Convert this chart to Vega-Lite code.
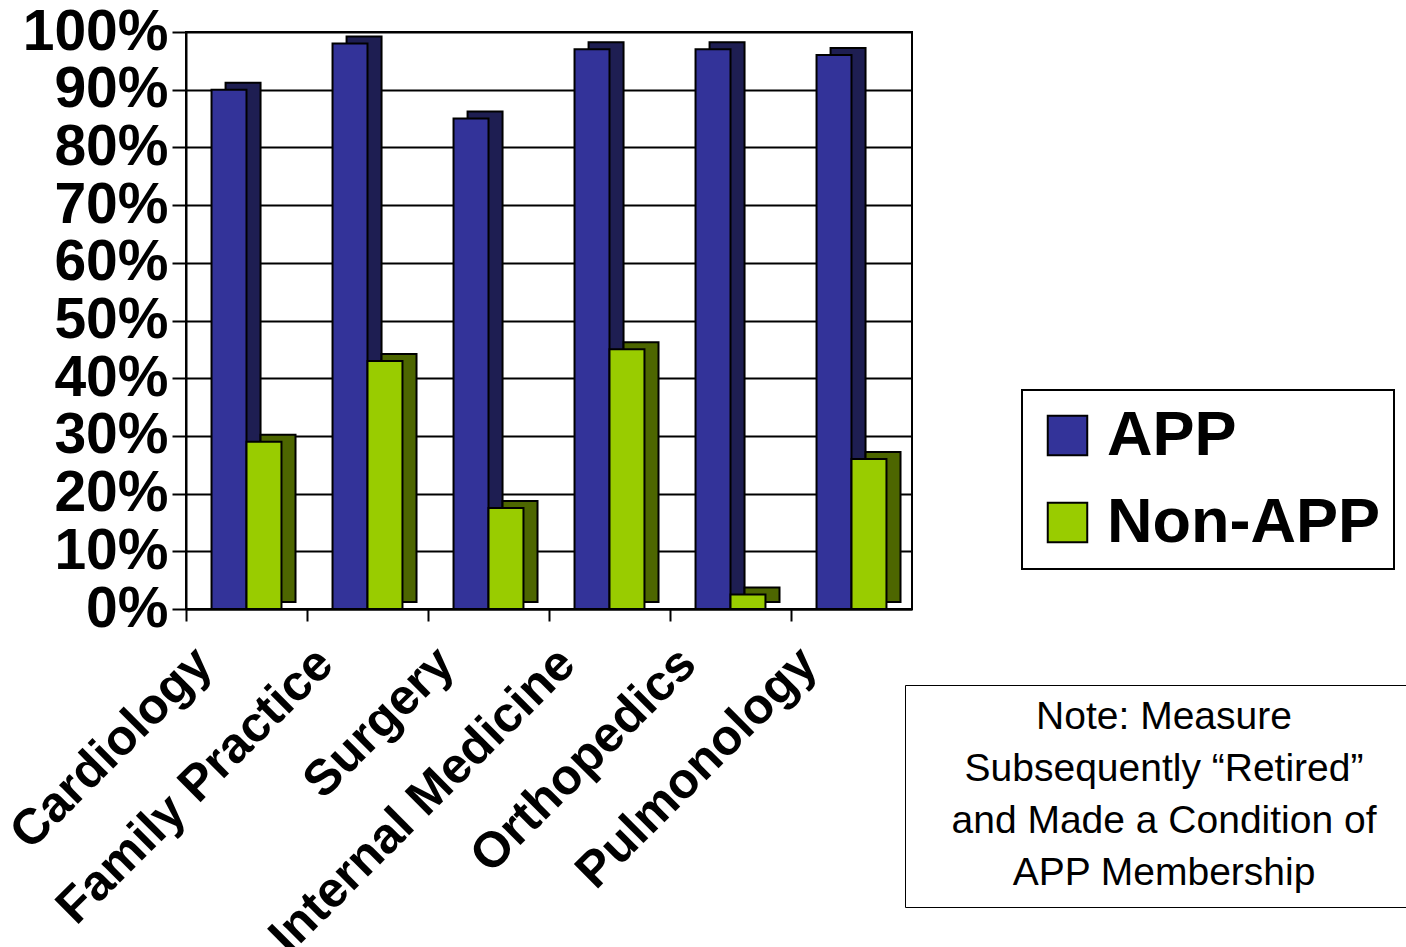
{
  "$schema": "https://vega.github.io/schema/vega-lite/v6.json",
  "autosize": "none",
  "width": 726,
  "height": 577,
  "padding": {"left": 186, "top": 32, "right": 494, "bottom": 338},
  "background": "white",
  "config": {
    "view": {"stroke": "black", "strokeWidth": 2, "fill": "white"},
    "font": "Liberation Sans"
  },
  "resolve": {"scale": {"xOffset": "independent"}},
  "data": {
    "values": [
      {"category": "Cardiology", "series": "APP", "value": 0.90},
      {"category": "Cardiology", "series": "Non-APP", "value": 0.29},
      {"category": "Family Practice", "series": "APP", "value": 0.98},
      {"category": "Family Practice", "series": "Non-APP", "value": 0.43},
      {"category": "Surgery", "series": "APP", "value": 0.85},
      {"category": "Surgery", "series": "Non-APP", "value": 0.175},
      {"category": "Internal Medicine", "series": "APP", "value": 0.97},
      {"category": "Internal Medicine", "series": "Non-APP", "value": 0.45},
      {"category": "Orthopedics", "series": "APP", "value": 0.97},
      {"category": "Orthopedics", "series": "Non-APP", "value": 0.025},
      {"category": "Pulmonology", "series": "APP", "value": 0.96},
      {"category": "Pulmonology", "series": "Non-APP", "value": 0.26}
    ]
  },
  "encoding": {
    "x": {
      "field": "category",
      "type": "nominal",
      "sort": null,
      "scale": {"paddingInner": 0, "paddingOuter": 0},
      "axis": {
        "title": null,
        "bandPosition": 0,
        "domainColor": "black",
        "domainWidth": 2,
        "tickColor": "black",
        "tickWidth": 2,
        "tickSize": 12,
        "labelAngle": -45,
        "labelAlign": "right",
        "labelBaseline": "top",
        "labelOffset": -60,
        "labelPadding": 17,
        "labelOverlap": false,
        "labelFont": "Liberation Sans",
        "labelFontSize": 50,
        "labelFontWeight": "bold",
        "labelColor": "black",
        "labelLimit": 1000
      }
    },
    "y": {
      "field": "value",
      "type": "quantitative",
      "scale": {"domain": [0, 1], "nice": false},
      "axis": {
        "title": null,
        "format": ".0%",
        "values": [0, 0.1, 0.2, 0.3, 0.4, 0.5, 0.6, 0.7, 0.8, 0.9, 1.0],
        "labelOverlap": false,
        "grid": true,
        "gridColor": "black",
        "gridWidth": 2,
        "gridOpacity": 1,
        "domainColor": "black",
        "domainWidth": 2,
        "tickColor": "black",
        "tickWidth": 2,
        "tickSize": 14,
        "labelPadding": 4,
        "labelFont": "Liberation Sans",
        "labelFontSize": 57,
        "labelFontWeight": "bold",
        "labelColor": "black",
        "labelBaseline": "middle"
      }
    }
  },
  "layer": [
    {
      "mark": {"type": "bar", "stroke": "black", "strokeWidth": 2, "yOffset": -7},
      "encoding": {
        "xOffset": {
          "field": "series",
          "type": "nominal",
          "scale": {"paddingInner": 0, "paddingOuter": 0.73, "align": 0.775}
        },
        "fill": {
          "condition": {"test": "datum.series === 'APP'", "value": "#1e1e52"},
          "value": "#4d6600"
        }
      }
    },
    {
      "mark": {"type": "bar", "stroke": "black", "strokeWidth": 2},
      "encoding": {
        "xOffset": {
          "field": "series",
          "type": "nominal",
          "scale": {"paddingInner": 0, "paddingOuter": 0.73}
        },
        "color": {
          "field": "series",
          "type": "nominal",
          "scale": {"domain": ["APP", "Non-APP"], "range": ["#333399", "#99cc00"]},
          "legend": {
            "orient": "none",
            "legendX": 836,
            "legendY": 358,
            "title": null,
            "strokeColor": "black",
            "fillColor": "white",
            "padding": 14,
            "symbolType": "square",
            "symbolSize": 1560,
            "symbolStrokeColor": "black",
            "symbolStrokeWidth": 2,
            "symbolOpacity": 1,
            "labelFont": "Liberation Sans",
            "labelFontSize": 63,
            "labelFontWeight": "bold",
            "labelColor": "black",
            "labelOffset": 8,
            "rowPadding": 23,
            "labelLimit": 1000,
            "encode": {"legend": {"update": {"strokeWidth": {"value": 2}}}}
          }
        }
      }
    },
    {
      "data": {"values": [{"note": "note"}, {"note": "note2"}]},
      "mark": {"type": "point", "opacity": 0},
      "encoding": {
        "x": null,
        "y": null,
        "shape": {
          "field": "note",
          "type": "nominal",
          "legend": {
            "orient": "none",
            "legendX": 719,
            "legendY": 653,
            "columns": 2,
            "columnPadding": 490,
            "title": ["Note: Measure", "Subsequently “Retired”", "and Made a Condition of", "APP Membership"],
            "titleFont": "Liberation Sans",
            "titleFontSize": 39,
            "titleFontWeight": "normal",
            "titleColor": "black",
            "titleLineHeight": 52,
            "titleAlign": "center",
            "titleAnchor": "middle",
            "titleLimit": 2000,
            "titlePadding": 0,
            "padding": 13,
            "symbolSize": 1,
            "symbolOpacity": 0,
            "symbolStrokeWidth": 0,
            "labelExpr": "''",
            "labelFontSize": 1,
            "labelOffset": 0,
            "rowPadding": 0,
            "strokeColor": "black",
            "fillColor": "white",
            "encode": {"legend": {"update": {"strokeWidth": {"value": 2}}}}
          }
        }
      }
    }
  ]
}
